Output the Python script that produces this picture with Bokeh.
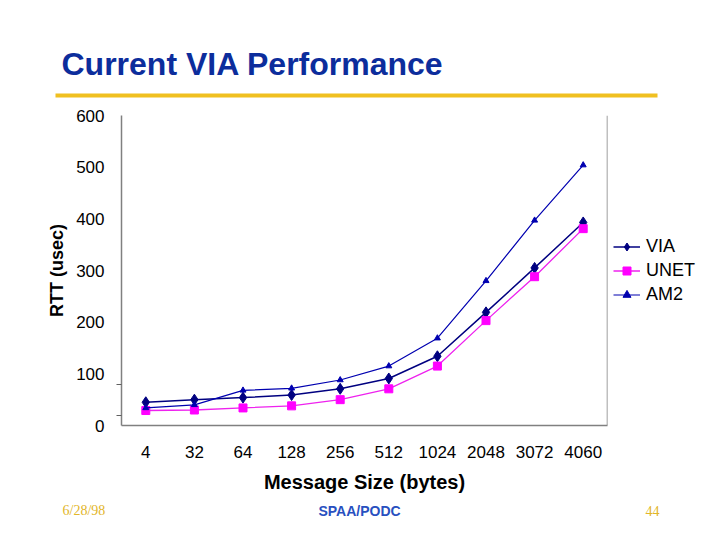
from bokeh.plotting import figure
from bokeh.models import (ColumnDataSource, Range1d, FactorRange, Legend, LegendItem,
                          Span, FixedTicker)
from bokeh.core.properties import value
from bokeh.embed import file_html
from bokeh.resources import INLINE

sizes = ["4", "32", "64", "128", "256", "512", "1024", "2048", "3072", "4060"]
via = [45, 50, 54, 59, 71, 91, 134, 219, 305, 393]
unet = [29, 30, 34, 38, 50, 71, 115, 203, 288, 381]
am2 = [34, 40, 68, 72, 88, 115, 169, 280, 397, 504]
y_ticks = [0, 100, 200, 300, 400, 500, 600]
y_stray_ticks = [19, 79]

title_text = "Current VIA Performance"
footer_date = "6/28/98"
footer_conf = "SPAA/PODC"
footer_page = "44"

src = ColumnDataSource(dict(x=sizes, via=via, unet=unet, am2=am2))

FONT = "Liberation Sans"
W = 712


def blank(h):
    f = figure(frame_width=W, frame_height=h, x_range=Range1d(0, W), y_range=Range1d(h, 0),
               x_axis_type=None, y_axis_type=None, min_border=0,
               output_backend="svg", toolbar_location=None,
               background_fill_color="white", border_fill_color="white")
    f.outline_line_color = None
    f.grid.visible = False
    f.title.visible = False
    return f


# ---- header: title + yellow rule ----
top = blank(105)
top.text(x=[61], y=[63], text=[title_text], text_font=value(FONT),
         text_font_style="bold", text_font_size="32px", text_color="#0C2D9C",
         text_baseline="middle")
top.quad(left=[55], right=[657], top=[93], bottom=[97],
         fill_color="#F0C020", line_color=None)

# ---- main chart ----
p = figure(x_range=FactorRange(*sizes), y_range=Range1d(0, 600),
           frame_width=486, frame_height=310,
           min_border_left=121, min_border_right=W - 121 - 486,
           min_border_top=10, min_border_bottom=75,
           output_backend="svg", toolbar_location=None,
           background_fill_color="white", border_fill_color="white")
p.outline_line_color = None
p.grid.visible = False

for ax in (p.xaxis[0], p.yaxis[0]):
    ax.axis_line_color = "#808080"
    ax.axis_line_width = 1.5
    ax.major_tick_line_color = None
    ax.minor_tick_line_color = None
    ax.major_tick_out = 0
    ax.major_tick_in = 0
    ax.minor_tick_in = 0
    ax.major_label_text_font = FONT
    ax.major_label_text_font_size = "17px"
    ax.major_label_text_color = "black"
    ax.axis_label_text_font = FONT
    ax.axis_label_text_font_style = "bold"
    ax.axis_label_text_color = "black"

p.yaxis[0].ticker = FixedTicker(ticks=y_ticks, minor_ticks=y_stray_ticks)
p.yaxis[0].minor_tick_line_color = "#606060"
p.yaxis[0].minor_tick_out = 5
p.yaxis[0].major_label_standoff = 12
p.yaxis[0].axis_label = "RTT (usec)"
p.yaxis[0].axis_label_text_font_size = "18px"
p.yaxis[0].axis_label_standoff = 6
p.xaxis[0].major_label_standoff = 20
p.xaxis[0].axis_label = "Message Size (bytes)"
p.xaxis[0].axis_label_text_font_size = "20px"
p.xaxis[0].axis_label_standoff = 10

p.add_layout(Span(location=10, dimension="height", line_color="#808080", line_width=1.5))

r1 = p.line("x", "via", source=src, line_color="#000080", line_width=1.5)
m1 = p.scatter("x", "via", source=src, marker="diamond", size=11,
               fill_color="#000080", line_color="#000080")
r2 = p.line("x", "unet", source=src, line_color="#EE22EE", line_width=1.3)
m2 = p.scatter("x", "unet", source=src, marker="square", size=8,
               fill_color="#FF00FF", line_color="#FF00FF")
r3 = p.line("x", "am2", source=src, line_color="#0000B0", line_width=1.2)
m3 = p.scatter("x", "am2", source=src, marker="triangle", size=6,
               fill_color="#0000B0", line_color="#0000B0")

legend = Legend(items=[LegendItem(label="VIA", renderers=[r1, m1]),
                       LegendItem(label="UNET", renderers=[r2, m2]),
                       LegendItem(label="AM2", renderers=[r3, m3])],
                location="center_left", margin=6, padding=2, spacing=3,
                label_height=20, glyph_height=20, glyph_width=27,
                label_standoff=6, label_text_font=FONT,
                label_text_font_size="18px", label_text_color="black",
                border_line_color=None, background_fill_alpha=0)
p.add_layout(legend, "right")

# ---- footer ----
bot = blank(32)
bot.text(x=[62], y=[10], text=[footer_date], text_font=value("Liberation Serif"),
         text_font_size="14px", text_color="#E2B62A", text_baseline="middle")
bot.text(x=[359], y=[10], text=[footer_conf], text_font=value(FONT),
         text_font_style="bold", text_font_size="14px", text_color="#2850C0",
         text_baseline="middle", text_align="center")
bot.text(x=[652], y=[10], text=[footer_page], text_font=value("Liberation Serif"),
         text_font_size="14px", text_color="#E2B62A", text_baseline="middle",
         text_align="center")

open("out.html", "w").write(file_html([top, p, bot], INLINE))
